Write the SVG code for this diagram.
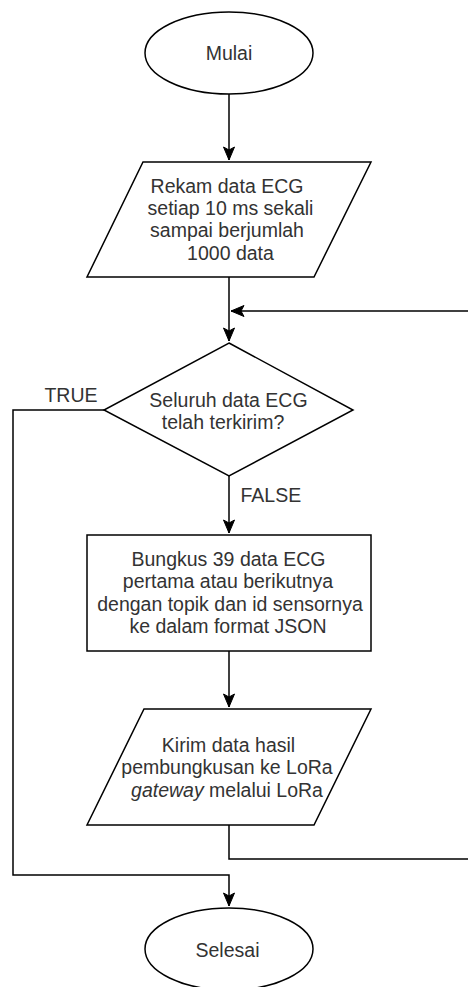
<svg xmlns="http://www.w3.org/2000/svg" width="468" height="987" viewBox="0 0 468 987">
<style>
.shape{fill:#fff;stroke:#000;stroke-width:1.5}
.edge{fill:none;stroke:#000;stroke-width:1.5}
text{font-family:"Liberation Sans",Arial,sans-serif;font-size:19.5px;fill:#333}
.c{text-anchor:middle}
</style>
<defs>
<marker id="arr" markerUnits="userSpaceOnUse" markerWidth="16" markerHeight="14" viewBox="-14 -7 16 14" refX="0" refY="0" orient="auto">
<path d="M-13,-5.5 L0,0 L-13,5.5 L-10,0 Z" fill="#000" stroke="#000" stroke-width="1"/>
</marker>
</defs>
<rect width="468" height="987" fill="#fff"/>
<g id="connectors">
<path class="edge" d="M229,94 L229,160" marker-end="url(#arr)"/>
<path class="edge" d="M229,277 L229,341" marker-end="url(#arr)"/>
<path class="edge" d="M470,311 L231,311" marker-end="url(#arr)"/>
<path class="edge" d="M229,476 L229,533" marker-end="url(#arr)"/>
<path class="edge" d="M229,651 L229,707" marker-end="url(#arr)"/>
<path class="edge" d="M229,825 L229,859 L470,859"/>
<path class="edge" d="M104,410 L13,410 L13,875 L229,875 L229,906" marker-end="url(#arr)"/>
<text x="71" y="401.5" class="c">TRUE</text>
<text x="240.5" y="501.5">FALSE</text>
</g>
<g id="mulai">
<ellipse class="shape" cx="229" cy="53" rx="84" ry="41"/>
<text x="229" y="60" class="c">Mulai</text>
</g>
<g id="rekam">
<path class="shape" d="M143,162 L371,162 L314,277 L87,277 Z"/>
<text x="227" y="192.7" class="c">Rekam data ECG</text>
<text x="230.5" y="215" class="c">setiap 10 ms sekali</text>
<text x="227" y="237.3" class="c">sampai berjumlah</text>
<text x="230.5" y="260" class="c">1000 data</text>
</g>
<g id="decision">
<path class="shape" d="M229,343 L353,410 L229,476 L104,410 Z"/>
<text x="228.5" y="406.7" class="c">Seluruh data ECG</text>
<text x="223" y="429.3" class="c">telah terkirim?</text>
</g>
<g id="bungkus">
<rect class="shape" x="87" y="535" width="284" height="116"/>
<text x="228.5" y="565.7" class="c">Bungkus 39 data ECG</text>
<text x="228" y="588.3" class="c">pertama atau berikutnya</text>
<text x="230" y="610.7" class="c">dengan topik dan id sensornya</text>
<text x="228" y="633.3" class="c">ke dalam format JSON</text>
</g>
<g id="kirim">
<path class="shape" d="M144,709 L371,709 L314,825 L87,825 Z"/>
<text x="228.5" y="751.7" class="c">Kirim data hasil</text>
<text x="227" y="774.3" class="c">pembungkusan ke LoRa</text>
<text x="227" y="796.7" class="c"><tspan font-style="italic">gateway</tspan> melalui LoRa</text>
</g>
<g id="selesai">
<ellipse class="shape" cx="229" cy="949" rx="84" ry="41"/>
<text x="227.5" y="956.5" class="c">Selesai</text>
</g>
</svg>
